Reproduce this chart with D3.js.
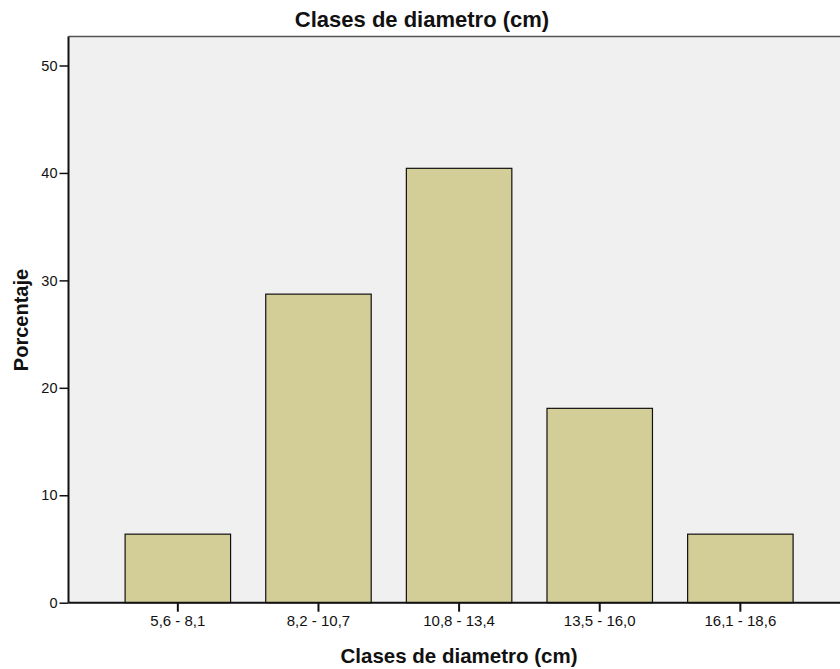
<!DOCTYPE html>
<html><head><meta charset="utf-8">
<script src="https://cdn.jsdelivr.net/npm/d3@7"></script>
<style>body{margin:0;background:#fff}svg{display:block}svg text{font-family:"Liberation Sans",Arial,sans-serif}</style>
</head><body>
<svg id="c" width="840" height="669"></svg>
<script>
const categories = ["5,6 - 8,1","8,2 - 10,7","10,8 - 13,4","13,5 - 16,0","16,1 - 18,6"];
const percents = [6.38, 28.72, 40.43, 18.09, 6.38];
const yTicks = [0,10,20,30,40,50];
const title = "Clases de diametro (cm)";
const xTitle = "Clases de diametro (cm)";
const yTitle = "Porcentaje";

const svg = d3.select("#c");
const L = 68.5, R = 849.7, T = 36.5, B = 602.7;
const x = d3.scaleBand().domain(categories).range([L, R]).paddingInner(0.25).paddingOuter(0.4025);
const y = d3.scaleLinear().domain([0, 52.7]).range([B, T]);

svg.append("rect").attr("x", L).attr("y", T).attr("width", R - L).attr("height", B - T).attr("fill", "#f0f0f0");
svg.append("line").attr("x1", L).attr("x2", R).attr("y1", T).attr("y2", T).attr("stroke", "#555").attr("stroke-width", 1.5);

svg.append("g").selectAll("rect").data(categories).join("rect")
  .attr("x", d => x(d)).attr("width", x.bandwidth())
  .attr("y", (d, i) => y(percents[i])).attr("height", (d, i) => B - y(percents[i]))
  .attr("fill", "#d3ce97").attr("stroke", "#111").attr("stroke-width", 1.2);

const ya = svg.append("g").attr("transform", `translate(${L},0)`)
  .call(d3.axisLeft(y).tickValues(yTicks).tickSize(9).tickPadding(2).tickFormat(d3.format("d")));
ya.attr("font-family", null).attr("font-size", null);
ya.select(".domain").attr("stroke", "#111").attr("stroke-width", 2).attr("d", `M0,${T}V${B}`);
ya.selectAll(".tick line").attr("stroke", "#111").attr("stroke-width", 1.5);
ya.selectAll("text").style("font-size", "14.5px").attr("fill", "#111");

const xa = svg.append("g").attr("transform", `translate(0,${B})`)
  .call(d3.axisBottom(x).tickSize(9).tickPadding(4));
xa.attr("font-family", null).attr("font-size", null);
xa.select(".domain").attr("stroke", "#111").attr("stroke-width", 2).attr("d", `M${L},0H${R}`);
xa.selectAll(".tick line").attr("stroke", "#111").attr("stroke-width", 2);
xa.selectAll("text").style("font-size", "15px").attr("fill", "#111");

svg.append("text").attr("x", 422).attr("y", 27).attr("text-anchor", "middle")
  .style("font-size", "22px").attr("font-weight", "bold").attr("fill", "#111").text(title);
svg.append("text").attr("x", 459).attr("y", 663).attr("text-anchor", "middle")
  .style("font-size", "20.5px").attr("font-weight", "bold").attr("fill", "#111").text(xTitle);
svg.append("text").attr("transform", "translate(28,320) rotate(-90)").attr("text-anchor", "middle")
  .style("font-size", "20px").attr("font-weight", "bold").attr("fill", "#111").text(yTitle);
</script>
</body></html>
